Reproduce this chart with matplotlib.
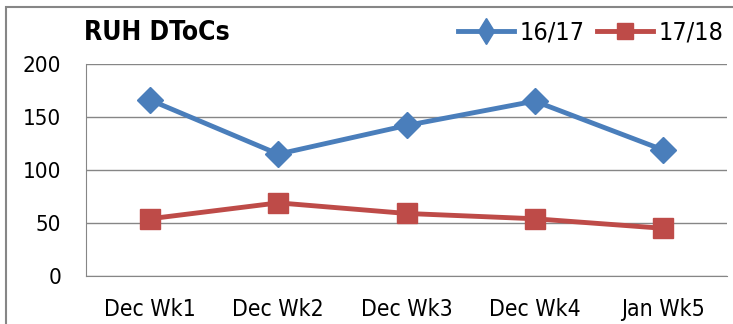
import matplotlib
matplotlib.use("Agg")
import matplotlib.pyplot as plt
from matplotlib.patches import Rectangle
from matplotlib.lines import Line2D

categories = ["Dec Wk1", "Dec Wk2", "Dec Wk3", "Dec Wk4", "Jan Wk5"]
s1617 = [166, 115, 142, 165, 119]
s1718 = [54, 69, 59, 54, 45]
yticks = [0, 50, 100, 150, 200]

plt.rcParams['font.family'] = ['DejaVu Sans']
plt.rcParams['font.stretch'] = 'condensed'

blue = "#4A7EBB"
red = "#BE4B48"

fig = plt.figure(figsize=(7.33, 3.24), dpi=100)
ax = fig.add_axes([86/733, 48/324, 641/733, 212/324])
x = list(range(len(categories)))
ax.plot(x, s1617, color=blue, lw=3.5, marker="D", ms=13, label="16/17")
ax.plot(x, s1718, color=red, lw=3.5, marker="s", ms=15, label="17/18")
ax.set_xlim(-0.5, len(categories) - 0.5)
ax.set_ylim(0, 200)
ax.set_yticks(yticks)
ax.set_xticks(x)
ax.set_xticklabels(categories, fontsize=16.5)
ax.tick_params(axis='y', labelsize=16, length=0, pad=18)
ax.tick_params(axis='x', length=0, pad=15.5)
ax.grid(axis='y', color="#868686", lw=1)
ax.set_axisbelow(True)
for s in ['top', 'right']:
    ax.spines[s].set_visible(False)
ax.spines['left'].set_color("#868686")
ax.spines['bottom'].set_color("#868686")

fig.text(84/733, 1 - 33/324, "RUH DToCs", fontsize=19, fontweight='bold', va='center', ha='left')
leg = fig.legend(handles=[Line2D([], [], color=blue, lw=3.5, marker="d", ms=13),
                          Line2D([], [], color=red, lw=3.5, marker="s", ms=12)],
                 labels=["16/17", "17/18"], loc='center right', bbox_to_anchor=(723/733, 1 - 33/324),
                 frameon=False, ncol=2, fontsize=18, handlelength=2.25, columnspacing=0.5,
                 handletextpad=0.2, borderpad=0, borderaxespad=0)
fig.patches.append(Rectangle((6/733, -0.1), 1.0, 1.1 - 7/324, transform=fig.transFigure, fill=False,
                             edgecolor="#868686", lw=1.5))
fig.savefig("out.png", dpi=100)
